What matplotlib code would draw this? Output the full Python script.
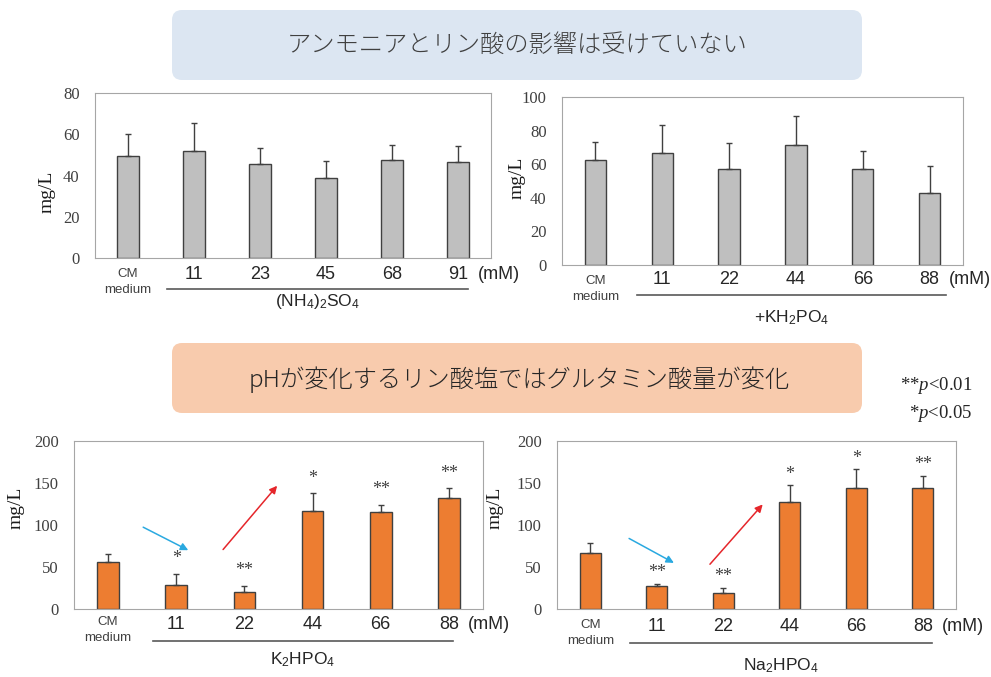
import matplotlib
matplotlib.use("Agg")
import matplotlib.pyplot as plt
from matplotlib.patches import FancyBboxPatch

plt.rcParams['mathtext.fontset'] = 'custom'
plt.rcParams['mathtext.rm'] = 'Liberation Sans'
plt.rcParams['mathtext.it'] = 'Liberation Serif:italic'

# values (mg/L), first bar is CM medium
conc_nh4 = ['11', '23', '45', '68', '91']
conc_p = ['11', '22', '44', '66', '88']

nh4_mean = [49.5, 51.7, 45.7, 38.9, 47.7, 46.7]
nh4_err = [10.7, 13.7, 7.6, 8.3, 7.1, 7.6]

kh2po4_mean = [62.4, 66.8, 56.9, 71.2, 56.9, 42.9]
kh2po4_err = [10.8, 16.3, 15.7, 17.7, 11.1, 16.3]

k2hpo4_mean = [56.1, 29.0, 19.9, 116.5, 114.9, 132.4]
k2hpo4_err = [9.5, 13.1, 7.9, 21.1, 8.8, 11.1]
k2hpo4_sig = ['', '*', '**', '*', '**', '**']

na2hpo4_mean = [67.2, 27.4, 18.7, 127.6, 143.5, 143.5]
na2hpo4_err = [11.5, 2.4, 6.3, 19.5, 22.7, 14.8]
na2hpo4_sig = ['', '**', '**', '*', '*', '**']

W, H = 991, 677
fig = plt.figure(figsize=(W / 100, H / 100), dpi=100)

SANS = 'Liberation Sans'
SERIF = 'Liberation Serif'
CJK = ['Noto Sans CJK JP', 'DejaVu Sans']

# background layer in pixel coords for the two heading boxes
bg = fig.add_axes([0, 0, 1, 1], zorder=-1)
bg.set_xlim(0, W)
bg.set_ylim(H, 0)
bg.axis('off')

bg.add_patch(FancyBboxPatch((172, 10), 690, 70, boxstyle='round,pad=0,rounding_size=10',
                            fc='#dce6f2', ec='none'))
bg.text(517, 45, 'アンモニアとリン酸の影響は受けていない', ha='center', va='center',
        fontsize=17.5, family=CJK, weight='light', color='#404040')

bg.add_patch(FancyBboxPatch((172, 343), 690, 70, boxstyle='round,pad=0,rounding_size=10',
                            fc='#f8cbad', ec='none'))
bg.text(519, 380, 'pHが変化するリン酸塩ではグルタミン酸量が変化', ha='center', va='center',
        fontsize=17.5, family=CJK, weight='light', color='#262626')

bg.text(972, 385, r'**$\mathit{p}$<0.01', ha='right', va='center', fontsize=13.5,
        family=SERIF, color='#262626')
bg.text(972, 414, r'*$\mathit{p}$<0.05', ha='right', va='center', fontsize=13.5,
        family=SERIF, color='#262626')


def panel(box, means, errs, ymax, ystep, color, concs, group, lay,
          sig=None, star_pad=8, arrows=()):
    x0, y0, x1, y1 = box
    ax = fig.add_axes([x0 / W, 1 - y1 / H, (x1 - x0) / W, (y1 - y0) / H])
    n = len(means)
    xs = list(range(n))
    ax.bar(xs, means, width=0.32, color=color, edgecolor='#404040', linewidth=1, zorder=2)
    ax.errorbar(xs, means, yerr=[[0] * n, errs], fmt='none', ecolor='#404040',
                elinewidth=1, capsize=2.5, capthick=1, zorder=3)
    ax.set_xlim(-0.5, n - 0.5)
    ax.set_ylim(0, ymax)
    ax.set_yticks(range(0, ymax + 1, ystep))
    ax.set_xticks([])
    ax.tick_params(axis='y', length=0, pad=11, labelsize=12, labelcolor='#404040')
    for lab in ax.get_yticklabels():
        lab.set_family(SERIF)
    for s in ax.spines.values():
        s.set_color('#a6a6a6')
        s.set_linewidth(0.8)

    tr = ax.get_xaxis_transform()
    ax.text(0, lay['cm'], 'CM\nmedium', transform=tr, ha='center', va='center',
            fontsize=9.5, family=SANS, color='#404040', linespacing=1.45)
    for i, c in enumerate(concs):
        ax.text(i + 1, lay['num'], c, transform=tr, ha='center', va='center',
                fontsize=13, family=SANS, color='#262626')
    ax.annotate('(mM)', xy=(n - 1, lay['num']), xycoords=tr, xytext=(14, 0),
                textcoords='offset points', ha='left', va='center',
                fontsize=13, family=SANS, color='#262626')
    ax.plot(lay['line_x'], [lay['line'], lay['line']], transform=tr, clip_on=False,
            color='#595959', lw=1.2)
    ax.text(sum(lay['line_x']) / 2, lay['group'], group, transform=tr, ha='center',
            va='center', fontsize=12.5, family=SANS, color='#262626')
    ax.text(lay['ylab'][0], lay['ylab'][1], 'mg/L', transform=ax.transAxes, rotation=90,
            ha='center', va='center', fontsize=14, family=SERIF, color='#1a1a1a')

    if sig:
        for i, s in enumerate(sig):
            if s:
                ax.annotate(s, xy=(i, means[i] + errs[i]), xytext=(0, star_pad),
                            textcoords='offset points', ha='center', va='center',
                            fontsize=13, family=SERIF, color='#404040')
    for (xa, ya), (xb, yb), col in arrows:
        ax.annotate('', xy=(xb, yb), xytext=(xa, ya),
                    arrowprops=dict(arrowstyle='-|>', color=col, lw=1.1,
                                    mutation_scale=11, shrinkA=0, shrinkB=0))
    return ax


panel((95, 93, 491, 258), nh4_mean, nh4_err, 80, 20, '#bfbfbf', conc_nh4,
      r'(NH$\mathregular{_4}$)$\mathregular{_2}$SO$\mathregular{_4}$',
      dict(num=-0.103, cm=-0.145, line=-0.19, line_x=(0.59, 5.15), group=-0.265,
           ylab=(-0.121, 0.40)))

panel((562, 97, 963, 265), kh2po4_mean, kh2po4_err, 100, 20, '#bfbfbf', conc_p,
      r'+KH$\mathregular{_2}$PO$\mathregular{_4}$',
      dict(num=-0.085, cm=-0.143, line=-0.179, line_x=(0.62, 5.24), group=-0.311,
           ylab=(-0.112, 0.52)))

panel((74, 441, 483, 609), k2hpo4_mean, k2hpo4_err, 200, 50, '#ed7d31', conc_p,
      r'K$\mathregular{_2}$HPO$\mathregular{_4}$',
      dict(num=-0.095, cm=-0.125, line=-0.189, line_x=(0.66, 5.06), group=-0.304,
           ylab=(-0.142, 0.60)),
      sig=k2hpo4_sig, star_pad=11,
      arrows=[((0.515, 97.4), (1.176, 70.0), '#2aa9e0'),
              ((1.687, 70.8), (2.48, 146.7), '#e5262b')])

panel((557, 441, 956, 609), na2hpo4_mean, na2hpo4_err, 200, 50, '#ed7d31', conc_p,
      r'Na$\mathregular{_2}$HPO$\mathregular{_4}$',
      dict(num=-0.107, cm=-0.143, line=-0.204, line_x=(0.605, 5.14), group=-0.34,
           ylab=(-0.156, 0.60)),
      sig=na2hpo4_sig, star_pad=8,
      arrows=[((0.584, 84.0), (1.258, 54.9), '#2aa9e0'),
              ((1.80, 53.3), (2.593, 124.5), '#e5262b')])

fig.savefig('out.png', dpi=100)
